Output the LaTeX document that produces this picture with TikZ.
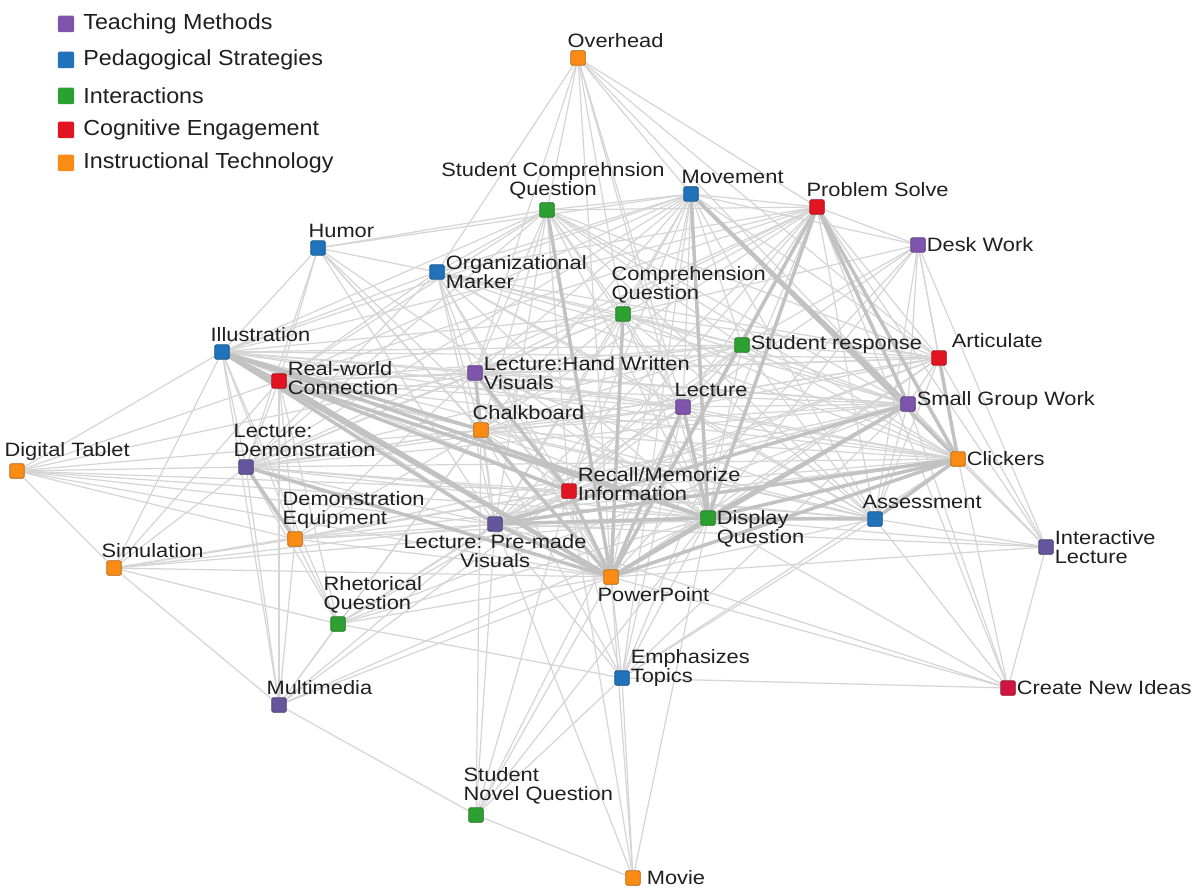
\documentclass[tikz,border=0pt]{standalone}
\usepackage{fontspec}
\setmainfont{Liberation Sans}[FakeStretch=1.07]
\newfontfamily\lblfont{Liberation Sans}[FakeStretch=1.13]
\usetikzlibrary{backgrounds}
\definecolor{tmcol}{RGB}{126,84,172}
\definecolor{tmgrey}{RGB}{100,86,156}
\definecolor{pscol}{RGB}{32,114,186}
\definecolor{incol}{RGB}{44,160,48}
\definecolor{cecol}{RGB}{226,20,34}
\definecolor{cecrim}{RGB}{208,22,62}
\definecolor{itcol}{RGB}{250,140,22}
\tikzstyle{sq}=[rectangle,minimum size=0.29cm,inner sep=0pt,rounded corners=0.8pt,line width=0.4pt]
\tikzstyle{tmsq}=[sq,fill=tmcol,draw=tmcol!70!black]
\tikzstyle{tmgsq}=[sq,fill=tmgrey,draw=tmgrey!70!black]
\tikzstyle{pssq}=[sq,fill=pscol,draw=pscol!70!black]
\tikzstyle{insq}=[sq,fill=incol,draw=incol!70!black]
\tikzstyle{cesq}=[sq,fill=cecol,draw=cecol!70!black]
\tikzstyle{cecsq}=[sq,fill=cecrim,draw=cecrim!70!black]
\tikzstyle{itsq}=[sq,fill=itcol,draw=itcol!70!black]
\tikzstyle{legsq}=[minimum size=0.33cm,draw=none]
\tikzstyle{lbl}=[inner xsep=0.5pt,inner ysep=1.5pt,text=black!88,align=left,font=\lblfont\fontsize{11pt}{10.8pt}\selectfont]
\tikzstyle{edge}=[draw=gray!33,line width=0.7pt]
\tikzstyle{heavy}=[draw=gray!48,line width=2pt]
\tikzstyle{legtxt}=[anchor=west,inner sep=0pt,text=black!88,font=\fontsize{12.4pt}{13pt}\selectfont]

\begin{document}
\begin{tikzpicture}[x=0.02cm,y=-0.02cm]
\useasboundingbox (0,0) rectangle (1199,888);

\node[tmsq,legsq] (leg1) at (66,24) {};
\node[pssq,legsq] (leg2) at (66,60) {};
\node[insq,legsq] (leg3) at (66,96) {};
\node[cesq,legsq] (leg4) at (66,130) {};
\node[itsq,legsq] (leg5) at (66,163) {};
\node[legtxt] (leg1t) at (83,24) {Teaching Methods};
\node[legtxt] (leg2t) at (83,60) {Pedagogical Strategies};
\node[legtxt] (leg3t) at (83,96) {Interactions};
\node[legtxt] (leg4t) at (83,130) {Cognitive Engagement};
\node[legtxt] (leg5t) at (83,163) {Instructional Technology};

\node[itsq,label={[lbl,anchor=south west,xshift=-0.08cm]north west:Overhead}] (ovh) at (578,58) {};
\node[insq,label={[lbl,anchor=south,align=center,xshift=0.12cm]north:Student Comprehnsion\\Question}] (scq) at (547,210) {};
\node[pssq,label={[lbl,anchor=south west,xshift=-0.06cm]north west:Movement}] (mov) at (691,194) {};
\node[cesq,label={[lbl,anchor=south west,xshift=-0.08cm]north west:Problem Solve}] (psv) at (817,207) {};
\node[pssq,label={[lbl,anchor=south west,xshift=-0.06cm]north west:Humor}] (hum) at (318,248) {};
\node[pssq,label={[lbl,anchor=west]east:Organizational\\Marker}] (org) at (437,272) {};
\node[tmsq,label={[lbl,anchor=west]east:Desk Work}] (dsk) at (918,245) {};
\node[insq,label={[lbl,anchor=south west,xshift=-0.1cm]north west:Comprehension\\Question}] (cq) at (623,314) {};
\node[pssq,label={[lbl,anchor=south west,xshift=-0.1cm]north west:Illustration}] (ill) at (222,352) {};
\node[insq,label={[lbl,anchor=west]east:Student response}] (sres) at (742,345) {};
\node[cesq,label={[lbl,anchor=south west,xshift=0.08cm]north east:Articulate}] (art) at (939,358) {};
\node[cesq,label={[lbl,anchor=west,yshift=0.06cm]east:Real-world\\Connection}] (rwc) at (279,381) {};
\node[tmsq,label={[lbl,anchor=west]east:Lecture:Hand Written\\Visuals}] (lhw) at (475,373) {};
\node[tmsq,label={[lbl,anchor=south west,xshift=-0.04cm]north west:Lecture}] (lec) at (683,407) {};
\node[tmsq,label={[lbl,anchor=west,yshift=0.06cm]east:Small Group Work}] (sgw) at (908,404) {};
\node[itsq,label={[lbl,anchor=south west,xshift=-0.04cm]north west:Chalkboard}] (chk) at (481,430) {};
\node[itsq,label={[lbl,anchor=south west,xshift=-0.12cm]north west:Digital Tablet}] (dtab) at (17,471) {};
\node[tmgsq,label={[lbl,anchor=south west,xshift=-0.12cm]north west:Lecture:\\Demonstration}] (ldem) at (246,467) {};
\node[itsq,label={[lbl,anchor=west]east:Clickers}] (clk) at (958,459) {};
\node[cesq,label={[lbl,anchor=west,yshift=0.14cm]east:Recall/Memorize\\Information}] (rec) at (569,491) {};
\node[pssq,label={[lbl,anchor=south west,xshift=-0.12cm]north west:Assessment}] (asm) at (875,519) {};
\node[itsq,label={[lbl,anchor=south west,xshift=-0.12cm]north west:Demonstration\\Equipment}] (deq) at (295,539) {};
\node[tmgsq,label={[lbl,anchor=north,align=center]south:Lecture: Pre-made\\Visuals}] (lpm) at (495,524) {};
\node[insq,label={[lbl,anchor=north west,yshift=0.06cm]north east:Display\\Question}] (dq) at (708,518) {};
\node[tmgsq,label={[lbl,anchor=west]east:Interactive\\Lecture}] (ilec) at (1046,547) {};
\node[itsq,label={[lbl,anchor=south west,xshift=-0.12cm]north west:Simulation}] (sim) at (114,568) {};
\node[itsq,label={[lbl,anchor=north west,xshift=-0.14cm]south west:PowerPoint}] (ppt) at (611,577) {};
\node[insq,label={[lbl,anchor=south west,xshift=-0.16cm]north west:Rhetorical\\Question}] (rq) at (338,624) {};
\node[pssq,label={[lbl,anchor=south west,yshift=-0.08cm]south east:Emphasizes\\Topics}] (emp) at (622,678) {};
\node[cecsq,label={[lbl,anchor=west]east:Create New Ideas}] (cni) at (1008,688) {};
\node[tmgsq,label={[lbl,anchor=south west,xshift=-0.12cm]north west:Multimedia}] (mm) at (279,705) {};
\node[insq,label={[lbl,anchor=south west,xshift=-0.12cm]north west:Student\\Novel Question}] (snq) at (476,815) {};
\node[itsq,label={[lbl,anchor=west,xshift=0.1cm]east:Movie}] (movie) at (633,878) {};

\begin{scope}[on background layer]
\foreach \a [count=\i] in {scq,mov,psv,org,cq,ill,sres,art,rwc,lhw,lec,sgw,chk,ldem,clk,rec,asm,lpm,dq,ppt}{
  \foreach \b [count=\j] in {scq,mov,psv,org,cq,ill,sres,art,rwc,lhw,lec,sgw,chk,ldem,clk,rec,asm,lpm,dq,ppt}{
    \ifnum\i<\j \draw[edge] (\a) -- (\b); \fi
  }
}
\foreach \b in {scq,lhw,cq,lec,dq,psv,art,sgw,org,mov,ppt}
  \draw[edge] (ovh) -- (\b);
\foreach \b in {ill,rwc,ldem,deq,lpm,rec,ppt,chk,sim,dq,lhw}
  \draw[edge] (dtab) -- (\b);
\foreach \b in {ldem,deq,lpm,ppt,mm,ill,rwc,rq,dq,rec}
  \draw[edge] (sim) -- (\b);
\foreach \b in {ldem,ill,deq,rq,lpm,ppt,snq,chk,rec,rwc,dq}
  \draw[edge] (mm) -- (\b);
\foreach \b in {lpm,ppt,movie,chk,lec,dq,rec,emp}
  \draw[edge] (snq) -- (\b);
\foreach \b in {ppt,emp,lpm,dq,rec}
  \draw[edge] (movie) -- (\b);
\foreach \b in {asm,clk,ilec,ppt,dq,sgw,psv,lpm,emp}
  \draw[edge] (cni) -- (\b);
\foreach \b in {clk,asm,sgw,ppt,dq,art,psv,dsk,lpm,mov}
  \draw[edge] (ilec) -- (\b);
\foreach \b in {psv,mov,sgw,clk,art,sres,dq,ppt,lec,cq,asm}
  \draw[edge] (dsk) -- (\b);
\foreach \b in {ill,org,scq,lpm,ppt,dq,rwc,ldem,rec,chk,mov}
  \draw[edge] (hum) -- (\b);
\foreach \b in {ldem,ill,rwc,lpm,ppt,dq,rec,chk,rq,lhw,clk,sgw}
  \draw[edge] (deq) -- (\b);
\foreach \b in {lpm,ppt,dq,rec,chk,ill,ldem,rwc,lec,emp,sgw}
  \draw[edge] (rq) -- (\b);
\foreach \b in {ppt,dq,lpm,rec,lec,clk,sgw,chk,asm,mov,psv}
  \draw[edge] (emp) -- (\b);
\foreach \a/\b in {ill/ppt,ill/dq,ill/lpm,ill/rwc,ill/chk,rwc/ppt,rwc/dq,rwc/rec,lpm/ppt,lpm/dq,lpm/sgw,lpm/clk,ppt/dq,ppt/sgw,ppt/clk,ppt/lec,ppt/rec,dq/clk,dq/sgw,dq/psv,dq/mov,lhw/chk,lhw/rec,chk/ppt,lec/dq,ppt/psv,mov/clk,mov/sgw,psv/sgw,psv/clk,ldem/ppt,ldem/deq,scq/ppt,cq/ppt,asm/dq,asm/clk,art/clk}
  \draw[heavy] (\a) -- (\b);
\end{scope}
\end{tikzpicture}
\end{document}
